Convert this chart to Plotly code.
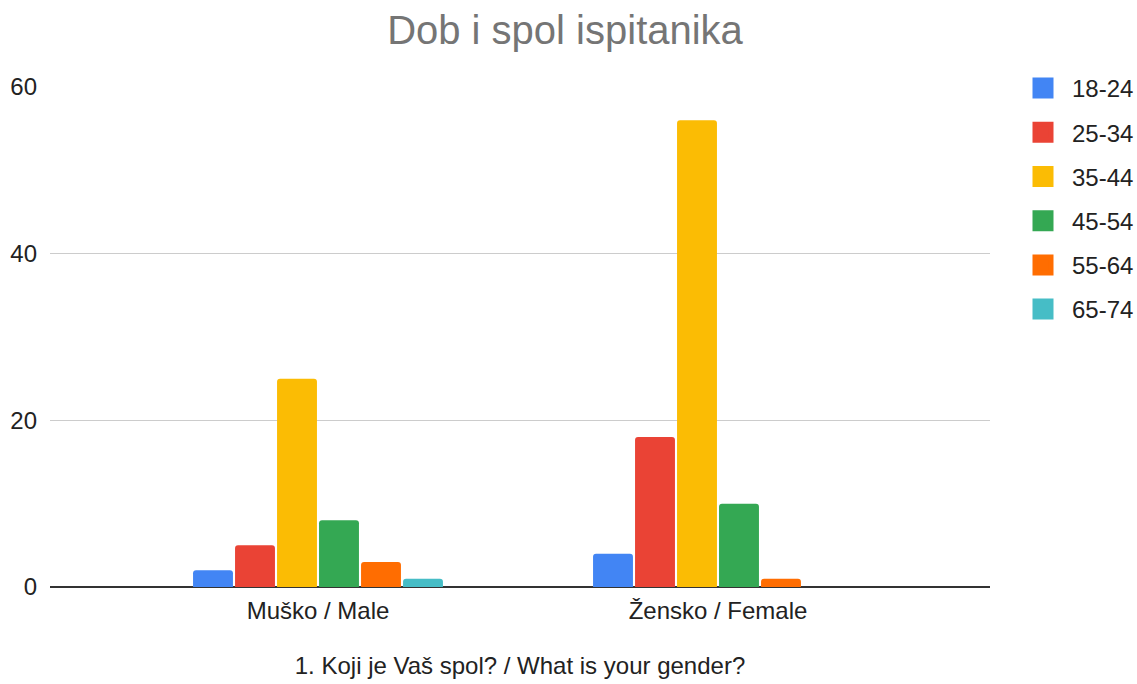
import plotly.graph_objects as go

categories = ["Muško / Male", "Žensko / Female"]
age_groups = ["18-24", "25-34", "35-44", "45-54", "55-64", "65-74"]
v_18_24 = [2, 4]
v_25_34 = [5, 18]
v_35_44 = [25, 56]
v_45_54 = [8, 10]
v_55_64 = [3, 1]
v_65_74 = [1, 0]
series = [v_18_24, v_25_34, v_35_44, v_45_54, v_55_64, v_65_74]
colors = ["#4285F4", "#EA4335", "#FBBC04", "#34A853", "#FF6D01", "#46BDC6"]

title_text = "Dob i spol ispitanika"
x_title = "1. Koji je Vaš spol? / What is your gender?"
y_ticks = [0, 20, 40, 60]

FONT = "Liberation Sans, Arial, sans-serif"

fig = go.Figure()
for name, vals, col in zip(age_groups, series, colors):
    fig.add_trace(go.Bar(
        x=categories, y=vals, name=name,
        marker=dict(color=col, line=dict(width=0)),
        legendgroup=name, showlegend=False,
        hoverinfo="x+y+name",
    ))
# legend entries (larger square swatches)
for name, col in zip(age_groups, colors):
    fig.add_trace(go.Scatter(
        x=[None], y=[None], mode="markers", name=name,
        marker=dict(symbol="square", size=16, color=col, line=dict(color=col, width=5)),
        legendgroup=name, showlegend=True, hoverinfo="skip",
    ))

W, H = 1137, 684
L, R, T, B = 50, 1137 - 990, 87, 684 - 587
fig.update_layout(
    width=W, height=H,
    template="none",
    margin=dict(l=L, r=R, t=T, b=B, autoexpand=False),
    paper_bgcolor="white", plot_bgcolor="white",
    font=dict(family=FONT, size=24, color="#222222"),
    title=dict(text=title_text, xref="container", x=565 / W, xanchor="center",
               yref="container", y=1 - 30 / H, yanchor="middle",
               font=dict(family=FONT, size=40, color="#757575")),
    barmode="group",
    bargap=0.37,
    bargroupgap=0.05,
    barcornerradius=3,
    showlegend=True,
    legend=dict(
        xref="container", yref="container",
        x=1014 / W, xanchor="left",
        y=1 - 66 / H, yanchor="top",
        font=dict(family=FONT, size=24, color="#222222"),
        traceorder="grouped",
        tracegroupgap=10,
        itemwidth=48,
        itemclick=False, itemdoubleclick=False,
        bgcolor="rgba(0,0,0,0)",
        borderwidth=0,
    ),
    xaxis=dict(
        type="category",
        range=[-0.67, 1.68],
        automargin=False,
        showgrid=False,
        showline=False,
        zeroline=False,
        ticks="",
        ticklabelstandoff=7,
        tickfont=dict(family=FONT, size=24, color="#222222"),
        title=dict(text=x_title, font=dict(family=FONT, size=24, color="#222222"), standoff=34),
        fixedrange=True,
    ),
    yaxis=dict(
        range=[0, 60],
        tickvals=y_ticks,
        automargin=False,
        showgrid=True, gridcolor="#cccccc", gridwidth=1,
        zeroline=True, zerolinecolor="#333333", zerolinewidth=1.5,
        showline=False,
        ticks="",
        ticklabelstandoff=12,
        tickfont=dict(family=FONT, size=24, color="#222222"),
        fixedrange=True,
    ),
)

fig.write_html(
    "out.html",
    config={"displayModeBar": False},
    post_script="document.body.style.margin='0';document.body.style.overflow='hidden';",
)
